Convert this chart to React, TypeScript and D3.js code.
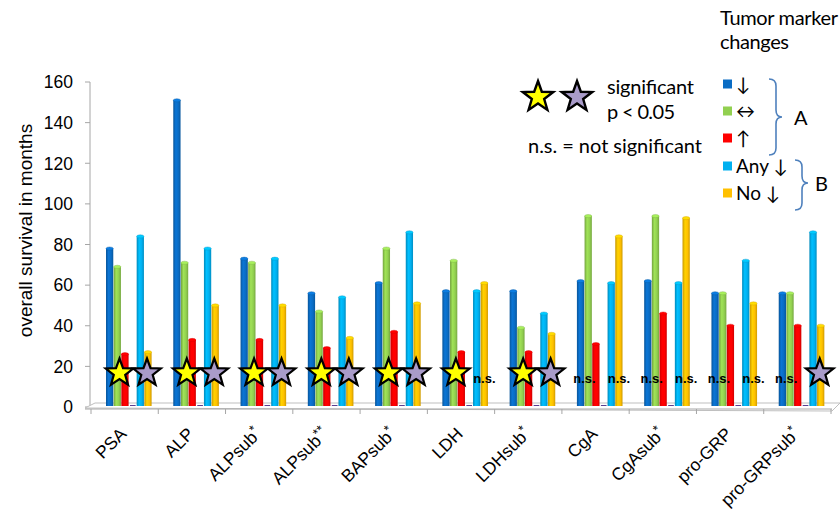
import React from 'react';
import * as d3 from 'd3';

const categories = ['PSA', 'ALP', 'ALPsub*', 'ALPsub**', 'BAPsub*', 'LDH', 'LDHsub*', 'CgA', 'CgAsub*', 'pro-GRP', 'pro-GRPsub*'];
const decreased = [78, 151, 73, 56, 61, 57, 57, 62, 62, 56, 56];
const stable = [69, 71, 71, 47, 78, 72, 39, 94, 94, 56, 56];
const increased = [26, 33, 33, 29, 37, 27, 27, 31, 46, 40, 40];
const anyDecrease = [84, 78, 73, 54, 86, 57, 46, 61, 61, 72, 86];
const noDecrease = [27, 50, 50, 34, 51, 61, 36, 84, 93, 51, 40];
const sigA = ['star', 'star', 'star', 'star', 'star', 'star', 'star', 'ns', 'ns', 'ns', 'ns'];
const sigB = ['star', 'star', 'star', 'star', 'star', 'ns', 'star', 'ns', 'ns', 'ns', 'star'];
const yTicks = [0, 20, 40, 60, 80, 100, 120, 140, 160];
const legendLabels = ['↓', '↔', '↑', 'Any ↓', 'No ↓'];

const slots = ['dec', 'stab', 'inc', 'gap', 'any', 'no'];
const seriesDefs = [
  { key: 'dec', values: decreased, color: '#0A6CC4' },
  { key: 'stab', values: stable, color: '#92D050' },
  { key: 'inc', values: increased, color: '#FF0000' },
  { key: 'any', values: anyDecrease, color: '#00B0F0' },
  { key: 'no', values: noDecrease, color: '#FFC000' },
];

function starPath(cx: number, cy: number, R: number, r: number) {
  const pts: [number, number][] = [];
  for (let i = 0; i < 10; i++) {
    const ang = -Math.PI / 2 + (i * Math.PI) / 5;
    const rad = i % 2 === 0 ? R : r;
    pts.push([cx + rad * Math.cos(ang), cy + rad * Math.sin(ang)]);
  }
  return 'M' + pts.map((p) => p.join(',')).join('L') + 'Z';
}

export default function App() {
  const x = d3.scaleBand<string>().domain(categories).range([91, 831]);
  const inner = d3.scaleBand<string>().domain(slots).range([15, 61]);
  const y = d3.scaleLinear().domain([0, 160]).range([407, 82]);
  const bw = inner.bandwidth();
  const base = 406;
  const axisFont = '"Liberation Sans", Arial, sans-serif';
  const legFont = 'Lato, "Open Sans", sans-serif';

  return (
    <svg width={840} height={514} style={{ position: 'absolute', left: 0, top: 0, background: '#fff' }}>
      <defs>
        {seriesDefs.map((s) => {
          const c = d3.color(s.color)!;
          return (
            <linearGradient key={s.key} id={'g-' + s.key} x1="0" x2="1" y1="0" y2="0">
              <stop offset="0%" stopColor={c.darker(0.7).toString()} />
              <stop offset="35%" stopColor={c.brighter(0.25).toString()} />
              <stop offset="70%" stopColor={s.color} />
              <stop offset="100%" stopColor={c.darker(0.6).toString()} />
            </linearGradient>
          );
        })}
      </defs>

      {/* y axis */}
      <line x1={90} x2={90} y1={y(160)} y2={y(0) + 1} stroke="#A6A6A6" />
      {yTicks.map((t) => (
        <g key={t}>
          <line x1={85} x2={90} y1={y(t)} y2={y(t)} stroke="#A6A6A6" />
          <text x={73} y={y(t)} dy="0.36em" textAnchor="end" fontFamily={axisFont} fontSize={17.5} fill="#000">
            {t}
          </text>
        </g>
      ))}
      <text
        transform={`translate(25,${y(80) - 14}) rotate(-90)`}
        textAnchor="middle"
        fontFamily={axisFont}
        fontSize={19}
        dy="0.35em"
      >
        overall survival in months
      </text>

      {/* floor */}
      <path d="M85,408 L95,403 L840,403 L832,411 Z" fill="#fff" stroke="#BFBFBF" strokeWidth={1} />
      <line x1={85} x2={832} y1={409} y2={409} stroke="#A6A6A6" />
      {categories.concat(['end']).map((c, i) => {
        const xx = i < categories.length ? x(c)! : 831;
        return <line key={c + i} x1={xx} x2={xx} y1={409} y2={414} stroke="#A6A6A6" />;
      })}

      {/* bars */}
      {categories.map((c, i) => (
        <g key={c}>
          {seriesDefs.map((s) => {
            const bx = x(c)! + inner(s.key)!;
            const top = y(s.values[i]);
            return (
              <g key={s.key}>
                <rect x={bx} y={top} width={bw - 0.4} height={base - top} fill={`url(#g-${s.key})`} />
                <ellipse cx={bx + (bw - 0.4) / 2} cy={top} rx={(bw - 0.4) / 2} ry={1.6} fill={d3.color(s.color)!.brighter(0.4).toString()} stroke={d3.color(s.color)!.darker(0.5).toString()} strokeWidth={0.4} />
              </g>
            );
          })}
          <line x1={x(c)! + inner('gap')! + 1} x2={x(c)! + inner('gap')! + bw - 1} y1={base - 0.5} y2={base - 0.5} stroke="#5B3F8F" strokeWidth={1} />
        </g>
      ))}

      {/* significance markers */}
      {categories.map((c, i) => {
        const ax = x(c)! + 28.5;
        const bxp = x(c)! + 56;
        const cy = 373;
        return (
          <g key={'sig' + c}>
            {sigA[i] === 'star' ? (
              <path d={starPath(ax, cy, 14.5, 6)} fill="#FFFF00" stroke="#000" strokeWidth={2.2} strokeLinejoin="miter" />
            ) : (
              <text x={ax - 6} y={cy + 10} textAnchor="middle" fontFamily={axisFont} fontWeight="bold" fontSize={13}>n.s.</text>
            )}
            {sigB[i] === 'star' ? (
              <path d={starPath(bxp, cy, 14.5, 6)} fill="#A99BC9" stroke="#000" strokeWidth={2.2} strokeLinejoin="miter" />
            ) : (
              <text x={bxp + 1} y={cy + 10} textAnchor="middle" fontFamily={axisFont} fontWeight="bold" fontSize={13}>n.s.</text>
            )}
          </g>
        );
      })}

      {/* x labels */}
      {categories.map((c) => {
        const cx = x(c)! + x.bandwidth() / 2 + 3;
        const m = c.match(/^(.*?)(\*+)$/);
        return (
          <text key={'l' + c} transform={`translate(${cx},435) rotate(-45)`} textAnchor="end" fontFamily={axisFont} fontSize={17.5}>
            {m ? (
              <>
                {m[1]}
                <tspan fontSize={13} dy={-6}>{m[2]}</tspan>
              </>
            ) : (
              c
            )}
          </text>
        );
      })}

      {/* star legend */}
      <path d={starPath(538, 97, 16, 6.5)} fill="#FFFF00" stroke="#000" strokeWidth={2.4} />
      <path d={starPath(577, 97, 16, 6.5)} fill="#A99BC9" stroke="#000" strokeWidth={2.4} />
      <text x={607} y={94} fontFamily={legFont} fontSize={20} textLength={87} lengthAdjust="spacing">significant</text>
      <text x={607} y={119} fontFamily={legFont} fontSize={20} textLength={68} lengthAdjust="spacing">p &lt; 0.05</text>
      <text x={528} y={153} fontFamily={legFont} fontSize={20} textLength={174} lengthAdjust="spacing">n.s. = not significant</text>

      {/* series legend */}
      <text x={720} y={25} fontFamily={legFont} fontSize={20} textLength={118} lengthAdjust="spacing">Tumor marker</text>
      <text x={720} y={49} fontFamily={legFont} fontSize={20} textLength={69} lengthAdjust="spacing">changes</text>
      {seriesDefs.map((s, i) => {
        const cy = [84, 111, 138, 166, 193][i];
        return (
          <g key={'leg' + s.key}>
            <rect x={723} y={cy - 4.5} width={9} height={9} fill={s.color} />
            <text x={736} y={cy + 6.5} fontFamily={legFont} fontSize={19}>{legendLabels[i]}</text>
          </g>
        );
      })}
      <path d="M769,79 Q776,79 776,86 L776,110 Q776,117 782,117 Q776,117 776,124 L776,148 Q776,155 769,155" fill="none" stroke="#4F81BD" strokeWidth={1.6} />
      <path d="M795,160 Q802,160 802,167 L802,176 Q802,183 808,183 Q802,183 802,190 L802,203 Q802,210 795,210" fill="none" stroke="#4F81BD" strokeWidth={1.6} />
      <text x={794} y={125} fontFamily={legFont} fontSize={20}>A</text>
      <text x={815} y={191} fontFamily={legFont} fontSize={20}>B</text>
    </svg>
  );
}
